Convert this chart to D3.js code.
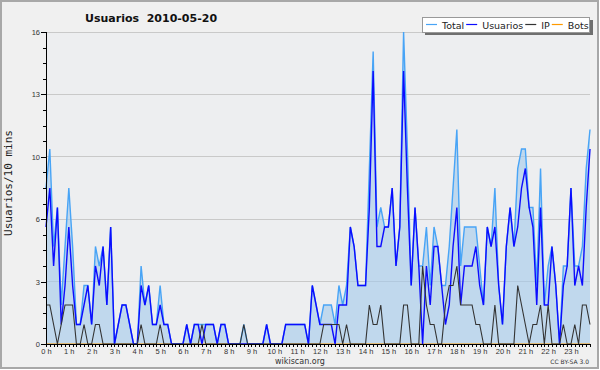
<!DOCTYPE html>
<html>
<head>
<meta charset="utf-8">
<script src="https://cdn.jsdelivr.net/npm/d3@7"></script>
<style>
  body { margin: 0; background: #fff; }
  svg { display: block; font-family: "DejaVu Sans", sans-serif; }
  .axis text { fill: #333; font-size: 7.5px; }
  .axis path, .axis line { stroke: #000; shape-rendering: crispEdges; }
</style>
</head>
<body>
<div class="chart"></div>
<script>
// 10-minute slots, 144 per day
const total = [8,10,5,7,2,5,8,5,1,1,3,3,1,5,4,5,2,6,0,1,2,2,1,0,0,4,2,3,1,1,
  3,1,1,0,0,0,0,1,0,1,1,1,1,1,1,0,1,1,0,0,0,0,1,0,0,0,0,0,1,0,
  0,0,0,1,1,1,1,1,1,0,3,2,1,2,2,2,1,3,2,3,6,5,3,3,3,9,15,6,7,6,
  6,8,4,6,16,10,3,7,4,4,6,3,6,5,3,3,5,8,11,4,6,6,6,6,4,2,6,5,8,3,
  1,5,7,5,9,10,10,7,7,3,9,2,4,5,3,0,4,4,8,4,4,5,9,11];
const usuarios = [6,8,4,7,1,3,6,3,1,1,2,3,1,4,3,5,2,6,0,1,2,2,1,0,0,3,2,3,1,1,
  2,1,1,0,0,0,0,1,0,1,1,0,1,1,1,0,1,1,0,0,0,0,0,0,0,0,0,0,1,0,
  0,0,0,1,1,1,1,1,1,0,3,2,1,1,1,1,0,2,2,2,6,5,3,3,3,7,14,5,5,6,
  6,8,4,6,14,8,3,7,4,0,4,2,5,5,3,1,2,5,7,2,4,4,4,5,3,2,6,5,6,3,
  1,5,7,5,6,8,9,7,6,2,7,2,2,5,3,0,3,4,8,3,4,3,7,10];
const ip = [2,2,1,0,1,2,2,2,0,0,1,0,0,1,1,0,0,0,0,0,0,0,0,0,0,1,0,0,0,0,
  1,0,0,0,0,0,0,0,0,0,0,1,0,0,0,0,0,0,0,0,0,0,1,0,0,0,0,0,0,0,
  0,0,0,0,0,0,0,0,0,0,0,0,0,1,1,1,1,1,0,1,0,0,0,0,0,2,1,1,2,0,
  0,0,0,0,2,2,0,0,0,4,2,1,1,0,0,2,3,3,4,2,2,2,2,1,1,0,0,0,2,0,
  0,0,0,0,3,2,1,0,1,1,2,0,2,0,0,0,1,0,0,1,0,2,2,1];
const bots = d3.range(144).map(() => 0);
const hourLabels = d3.range(24).map(h => `${h} h`);
const yMajor = [0, 3.2, 6.4, 9.6, 12.8, 16];

const series = [
  { name: 'Total', values: total, color: '#48a4f6', width: 1.4 },
  { name: 'Usuarios', values: usuarios, color: '#0c0cff', width: 1.4 },
  { name: 'IP', values: ip, color: '#333333', width: 1.1 },
  { name: 'Bots', values: bots, color: '#ff9a00', width: 1.1 }
];

const svg = d3.select('.chart')
  .append('svg')
    .attr('width', 600)
    .attr('height', 370);

svg.append('rect')
    .attr('x', 1).attr('y', 1)
    .attr('width', 597).attr('height', 367)
    .attr('fill', '#f0f0f0')
    .attr('stroke', '#a8a8a8')
    .attr('stroke-width', 2);

const x = d3.scaleLinear().domain([0, 143]).range([46, 590]);
const y = d3.scaleLinear().domain([0, 16]).range([344, 32]);

svg.append('rect')
    .attr('x', x(0)).attr('y', y(16))
    .attr('width', x(143) - x(0)).attr('height', y(0) - y(16))
    .attr('fill', '#edeef0');

// grid
svg.append('g')
  .selectAll('line')
  .data(yMajor.slice(1))
  .enter()
  .append('line')
    .attr('x1', x(0)).attr('x2', x(143))
    .attr('y1', d => y(d)).attr('y2', d => y(d))
    .attr('stroke', '#c9c9c9')
    .attr('shape-rendering', 'crispEdges');

// filled total
svg.append('path')
    .datum(total)
    .attr('d', d3.area().x((d, i) => x(i)).y0(y(0)).y1(d => y(d)))
    .attr('fill', '#a4caec')
    .attr('fill-opacity', 0.62);

const line = d3.line().x((d, i) => x(i)).y(d => y(d));

// bots first so the axis covers it, then Total, Usuarios, IP
svg.selectAll('.serie')
  .data([series[3], series[0], series[1], series[2]])
  .enter()
  .append('path')
    .classed('serie', true)
    .attr('d', d => line(d.values))
    .attr('fill', 'none')
    .attr('stroke', d => d.color)
    .attr('stroke-width', d => d.width)
    .attr('stroke-linejoin', 'miter');

// axes
svg.append('g')
    .attr('class', 'axis')
    .attr('transform', `translate(${x(0)},0)`)
    .call(d3.axisLeft(y).tickValues(yMajor).tickSize(5).tickPadding(1).tickFormat(d => Math.round(d)));

svg.append('g')
    .attr('class', 'axis')
    .attr('transform', `translate(${x(0)},0)`)
    .call(d3.axisLeft(y).tickValues(d3.range(0, 16.01, 0.8)).tickSize(3).tickFormat(''))
    .select('.domain').remove();

svg.append('g')
    .attr('class', 'axis')
    .attr('transform', `translate(0,${y(0)})`)
    .call(d3.axisBottom(x).tickValues(d3.range(0, 144)).tickSize(3).tickSizeOuter(0).tickFormat(''));

svg.append('g')
    .attr('class', 'axis')
    .attr('transform', `translate(0,${y(0)})`)
    .call(d3.axisBottom(x).tickValues(hourLabels.map((d, i) => i * 6)).tickSize(3).tickPadding(2)
      .tickFormat((d, i) => hourLabels[i]))
    .select('.domain').remove();

// titles
svg.append('text')
    .attr('x', 85).attr('y', 22)
    .style('font-size', '11px')
    .style('font-weight', 'bold')
    .attr('fill', '#111')
    .attr('xml:space', 'preserve')
    .text('Usuarios  2010-05-20');

svg.append('text')
    .attr('transform', 'translate(12,183) rotate(-90)')
    .attr('text-anchor', 'middle')
    .style('font-family', '"DejaVu Sans Mono", monospace')
    .style('font-size', '11px')
    .attr('fill', '#222')
    .text('Usuarios/10 mins');

svg.append('text')
    .attr('x', 300).attr('y', 364)
    .attr('text-anchor', 'middle')
    .style('font-size', '8px')
    .attr('fill', '#333')
    .text('wikiscan.org');

svg.append('text')
    .attr('x', 589).attr('y', 364)
    .attr('text-anchor', 'end')
    .style('font-size', '6px')
    .attr('fill', '#333')
    .text('CC BY-SA 3.0');

// legend
const legend = svg.append('g').attr('transform', 'translate(422,17)');
legend.append('rect')
    .attr('x', 3).attr('y', 3).attr('width', 168).attr('height', 15)
    .attr('fill', '#6f6f6f');
legend.append('rect')
    .attr('x', 0.5).attr('y', 0.5).attr('width', 167).attr('height', 15)
    .attr('fill', '#fff')
    .attr('stroke', '#999');

let lx = 4;
series.forEach(s => {
  legend.append('line')
      .attr('x1', lx).attr('x2', lx + 11)
      .attr('y1', 7.5).attr('y2', 7.5)
      .attr('stroke', s.color)
      .attr('stroke-width', 1.2);
  const t = legend.append('text')
      .attr('x', lx + 16).attr('y', 11.5)
      .style('font-size', '9.5px')
      .attr('fill', '#222')
      .text(s.name);
  lx += 16 + t.node().getComputedTextLength() + 2;
});
</script>
</body>
</html>
